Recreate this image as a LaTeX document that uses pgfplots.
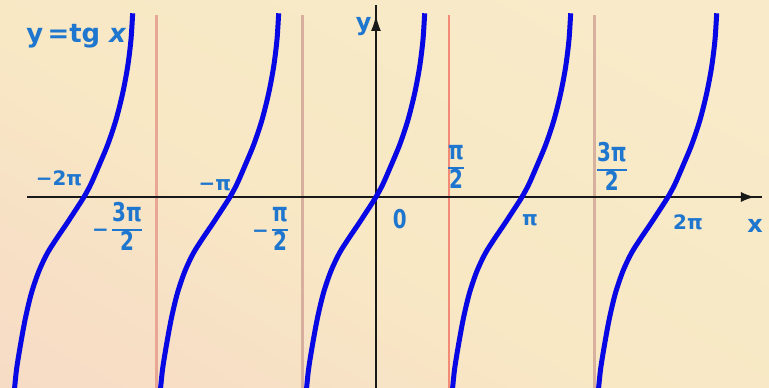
\documentclass[border=0pt]{standalone}
\usepackage{pgfplots}
\pgfplotsset{compat=1.18}
\usetikzlibrary{arrows.meta}
\usepackage{fontspec}
\setmainfont{DejaVu Sans}

\definecolor{paper}{RGB}{248,232,196}
\definecolor{peach}{RGB}{246,216,198}
\definecolor{curve}{RGB}{8,8,228}
\definecolor{lbl}{RGB}{30,118,206}
\definecolor{asyA}{RGB}{232,166,148}
\definecolor{asyB}{RGB}{216,174,158}
\definecolor{asyC}{RGB}{242,138,118}
\definecolor{asyD}{RGB}{216,176,158}

% soft peach tint in one corner of the paper
\pgfdeclareverticalshading{paperfade}{100bp}{color(0bp)=(peach); color(25bp)=(peach!60!paper); color(45bp)=(paper); color(100bp)=(paper!85!white)}

\tikzset{lab/.style={text=lbl, font=\bfseries\fontsize{10}{12}\selectfont, inner sep=0pt}}

% tall stacked fraction set in the text font
\setlength\arrayrulewidth{0.9bp}
\newcommand\fr[2]{\scalebox{1}[1.3]{\renewcommand\arraystretch{0.82}\begin{tabular}{@{}c@{}}#1\\\hline#2\end{tabular}}}

\begin{document}
\begin{tikzpicture}
\begin{axis}[
  x=73bp, y=50bp,
  xmin=-2.575, xmax=2.692, ymin=-1.90, ymax=1.97,
  hide axis, clip=true,
]
% paper background
\shade[shading=paperfade, shading angle=-30]
  (rel axis cs:0,0) rectangle (rel axis cs:1,1);

% asymptotes x = (2k+1)pi/2
\addplot[asyA, line width=1.5bp] coordinates {(-1.5,-2) (-1.5,1.82)};
\addplot[asyB, line width=1.5bp] coordinates {(-0.5,-2) (-0.5,1.82)};
\addplot[asyC, line width=1.4bp] coordinates {(0.5,-2) (0.5,1.82)};
\addplot[asyD, line width=1.5bp] coordinates {(1.5,-2) (1.5,1.82)};

% coordinate axes
\draw[black!90, line width=1bp] (axis cs:-2.39,0) -- (axis cs:2.644,0);
\draw[black!90, line width=1bp, -{Latex[length=7bp,width=5bp]}] (axis cs:2.0,0) -- (axis cs:2.596,0);
\draw[black!90, line width=1bp] (axis cs:0,-2) -- (axis cs:0,1.92);
\draw[black!90, line width=1bp, -{Latex[length=8bp,width=5bp]}] (axis cs:0,1.0) -- (axis cs:0,1.82);

% branches of y = tg x, x in units of pi
\addplot[curve, line width=2.5bp, smooth] coordinates {
 (-2.4795,-1.98) (-2.4623,-1.73) (-2.4349,-1.48) (-2.4007,-1.21) (-2.3596,-0.96)
 (-2.3082,-0.74) (-2.2500,-0.56) (-2.1849,-0.41) (-2.1199,-0.27) (-2.0548,-0.125)
 (-2,0) (-1.9521,0.13) (-1.8938,0.325) (-1.8356,0.53) (-1.7808,0.77)
 (-1.7349,1.037) (-1.7007,1.303) (-1.6781,1.57) (-1.6664,1.837)};
\addplot[curve, line width=2.5bp, smooth] coordinates {
 (-1.4795,-1.98) (-1.4623,-1.73) (-1.4349,-1.48) (-1.4007,-1.21) (-1.3596,-0.96)
 (-1.3082,-0.74) (-1.2500,-0.56) (-1.1849,-0.41) (-1.1199,-0.27) (-1.0548,-0.125)
 (-1,0) (-0.9521,0.13) (-0.8938,0.325) (-0.8356,0.53) (-0.7808,0.77)
 (-0.7349,1.037) (-0.7007,1.303) (-0.6781,1.57) (-0.6664,1.837)};
\addplot[curve, line width=2.5bp, smooth] coordinates {
 (-0.4795,-1.98) (-0.4623,-1.73) (-0.4349,-1.48) (-0.4007,-1.21) (-0.3596,-0.96)
 (-0.3082,-0.74) (-0.2500,-0.56) (-0.1849,-0.41) (-0.1199,-0.27) (-0.0548,-0.125)
 (0,0) (0.0479,0.13) (0.1062,0.325) (0.1644,0.53) (0.2192,0.77)
 (0.2651,1.037) (0.2993,1.303) (0.3219,1.57) (0.3336,1.837)};
\addplot[curve, line width=2.5bp, smooth] coordinates {
 (0.5205,-1.98) (0.5377,-1.73) (0.5651,-1.48) (0.5993,-1.21) (0.6404,-0.96)
 (0.6918,-0.74) (0.7500,-0.56) (0.8151,-0.41) (0.8801,-0.27) (0.9452,-0.125)
 (1,0) (1.0479,0.13) (1.1062,0.325) (1.1644,0.53) (1.2192,0.77)
 (1.2651,1.037) (1.2993,1.303) (1.3219,1.57) (1.3336,1.837)};
\addplot[curve, line width=2.5bp, smooth] coordinates {
 (1.5205,-1.98) (1.5377,-1.73) (1.5651,-1.48) (1.5993,-1.21) (1.6404,-0.96)
 (1.6918,-0.74) (1.7500,-0.56) (1.8151,-0.41) (1.8801,-0.27) (1.9452,-0.125)
 (2,0) (2.0479,0.13) (2.1062,0.325) (2.1644,0.53) (2.2192,0.77)
 (2.2651,1.037) (2.2993,1.303) (2.3219,1.57) (2.3336,1.837)};

% labels
\node[lab, anchor=west, font=\bfseries\fontsize{13}{15}\selectfont] at (axis cs:-2.397,1.61) {y\,=tg \textit{x}};
\node[lab] at (axis cs:-2.171,0.19) {−2π};
\node[lab] at (axis cs:-1.103,0.12) {−π};
\node[lab] at (axis cs:-1.774,-0.33) {−\,\fr{3π}{2}};
\node[lab] at (axis cs:-0.726,-0.34) {−\,\fr{π}{2}};
\node[lab] at (axis cs:0.164,-0.22) {\scalebox{1}[1.3]{0}};
\node[lab] at (axis cs:0.548,0.28) {\fr{π}{2}};
\node[lab] at (axis cs:1.055,-0.23) {π};
\node[lab] at (axis cs:1.616,0.27) {\fr{3π}{2}};
\node[lab] at (axis cs:2.137,-0.25) {2π};
\node[lab, font=\bfseries\fontsize{12}{14}\selectfont] at (axis cs:2.596,-0.29) {x};
\node[lab, font=\bfseries\fontsize{12}{14}\selectfont] at (axis cs:-0.085,1.70) {y};

\coordinate (SW) at (rel axis cs:0,0);
\coordinate (NE) at (rel axis cs:1,1);
\end{axis}
\pgfresetboundingbox
\useasboundingbox (SW) rectangle (NE);
\end{tikzpicture}
\end{document}
